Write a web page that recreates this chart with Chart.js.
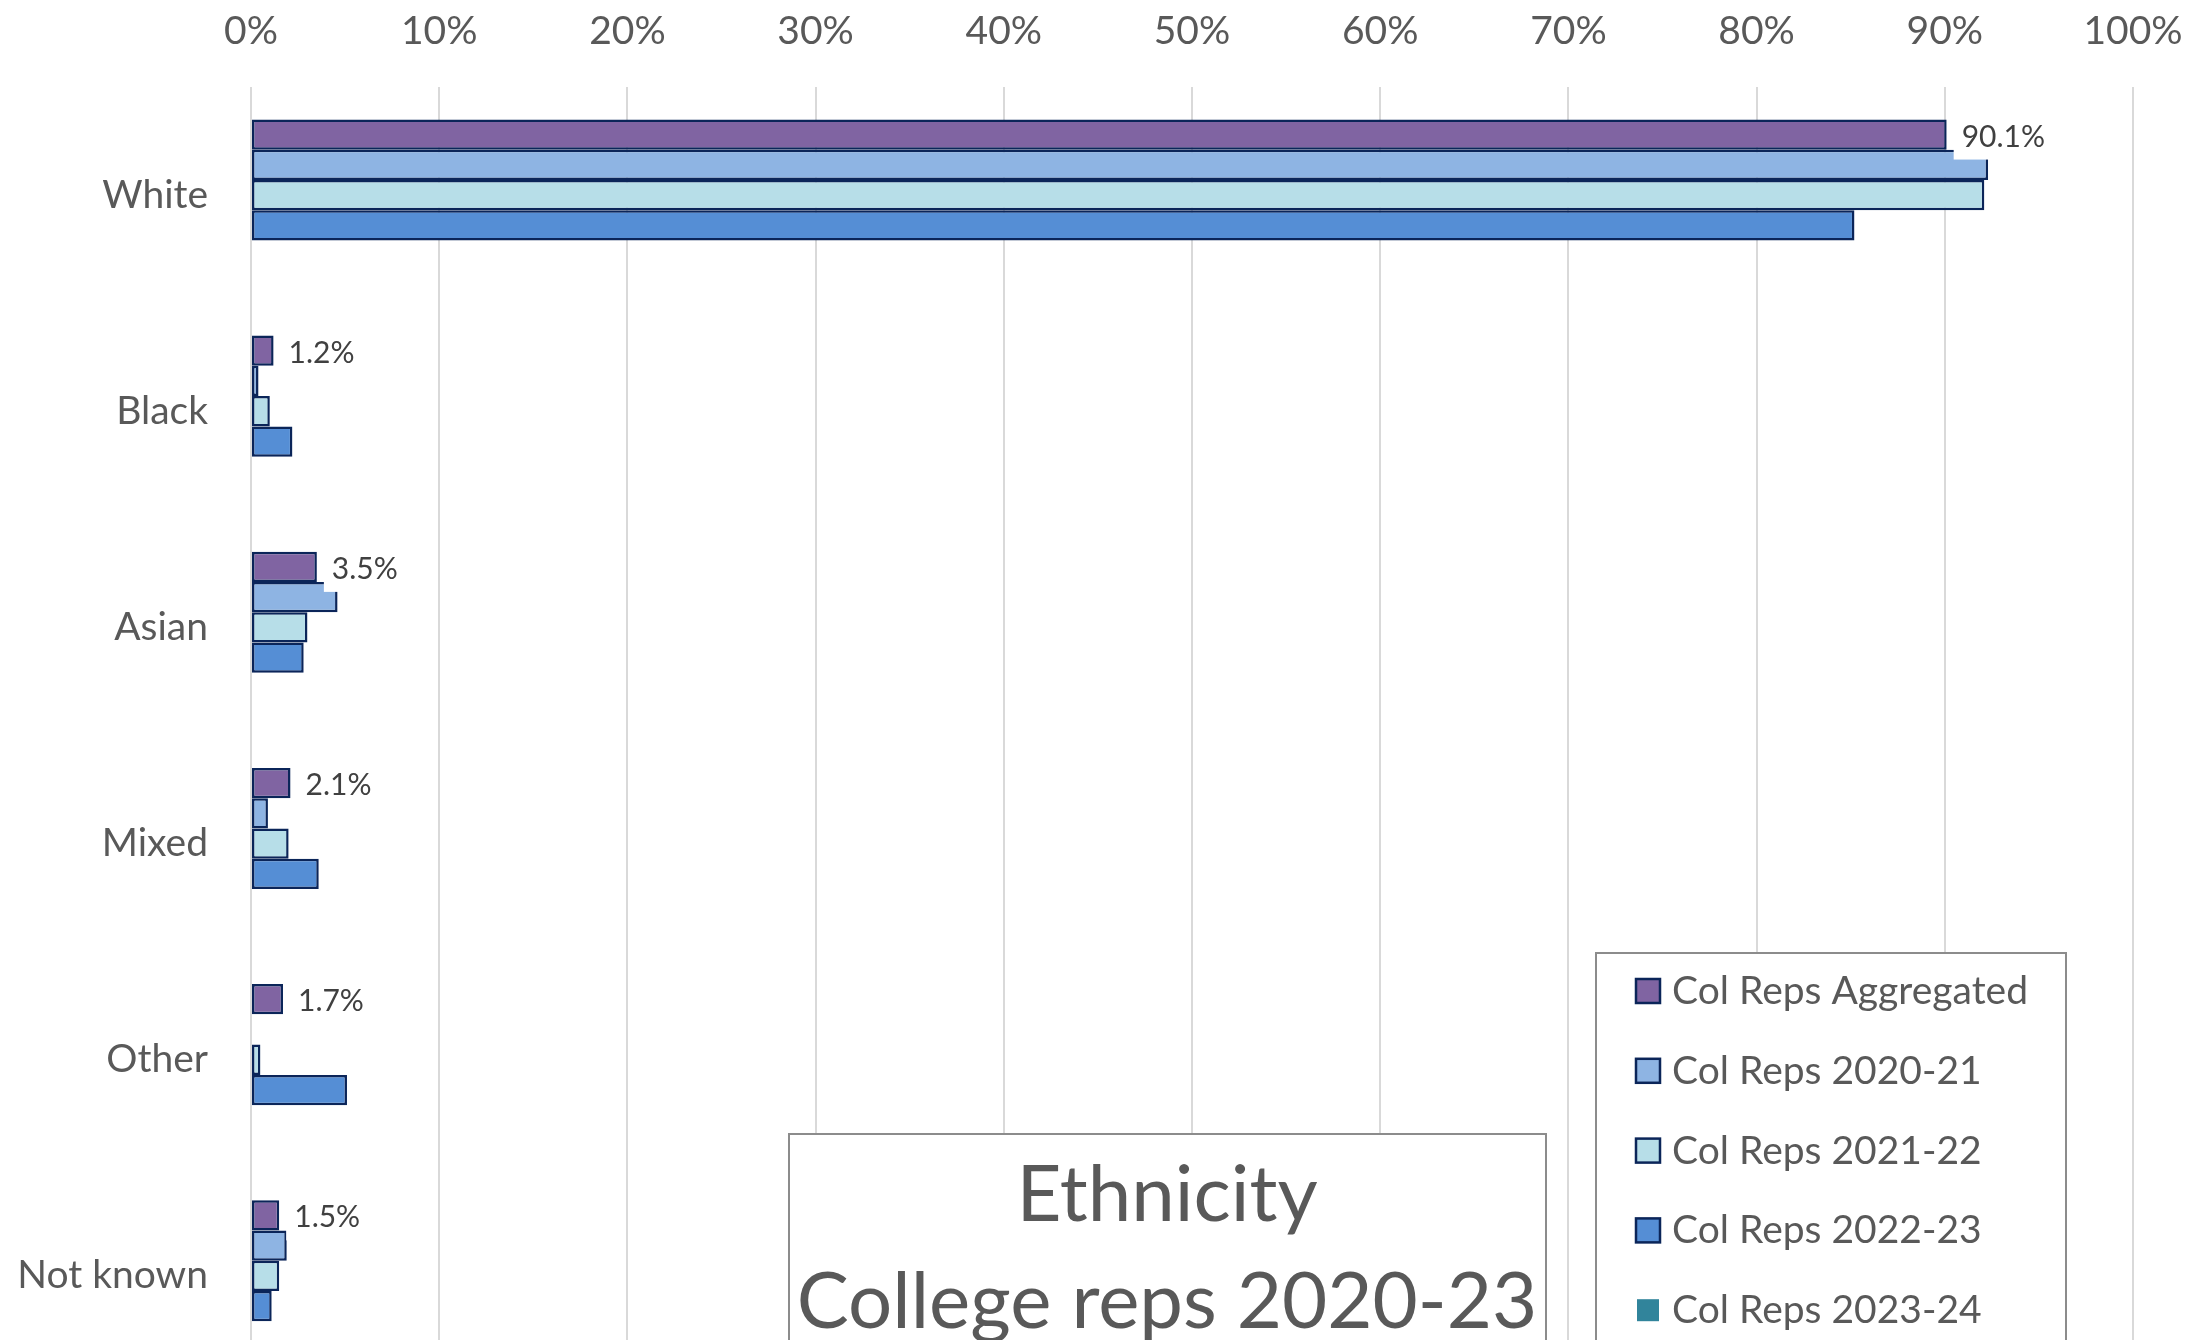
<!DOCTYPE html>
<html>
<head>
<meta charset="utf-8">
<title>Ethnicity - College reps 2020-23</title>
<script src="https://cdn.jsdelivr.net/npm/chart.js@4.4.1/dist/chart.umd.min.js"></script>
<style>
html, body { margin:0; padding:0; background:#fff; width:2190px; height:1340px; overflow:hidden; }
#ethChart { position:absolute; left:0; top:0; }
</style>
</head>
<body>
<canvas id="ethChart" width="2190" height="1400"></canvas>
<script>

const categories = ['White','Black','Asian','Mixed','Other','Not known'];

const seriesNames = ['Col Reps Aggregated','Col Reps 2020-21','Col Reps 2021-22','Col Reps 2022-23','Col Reps 2023-24'];

// percentages per category, same order as categories
const aggregated = [90.1, 1.2, 3.5, 2.1, 1.7, 1.5];
const reps2021 = [92.3, 0.4, 4.6, 0.9, 0, 1.9];
const reps2122 = [92.1, 1.0, 3.0, 2.0, 0.5, 1.5];
const reps2223 = [85.2, 2.2, 2.8, 3.6, 5.1, 1.1];
const reps2324 = [null, null, null, null, null, null];

const tickValues = [0,10,20,30,40,50,60,70,80,90,100];

const titleLines = ['Ethnicity','College reps 2020-23'];

const fillColors = ['#8064A2','#8EB4E3','#B7DEE8','#558ED5','#31849B'];
const edge = '#0B2559';
const textGrey = '#595959';
const fontName = 'Lato, "Open Sans", sans-serif';

let allSeries = [aggregated, reps2021, reps2122, reps2223, reps2324];

let datasets = allSeries.map(function(vals, i){
  return {
    label: seriesNames[i],
    data: vals,
    backgroundColor: fillColors[i],
    borderColor: edge,
    borderWidth: i == 4 ? 0 : 2.5,
    borderSkipped: false,
    categoryPercentage: 0.7,
    barPercentage: 1.0
  };
});

// value labels on the aggregated bars, with a white patch behind them
const valueLabels = {
  id: 'valueLabels',
  afterDatasetsDraw(chart){
    let c = chart.ctx;
    let meta = chart.getDatasetMeta(0);
    c.save();
    c.font = '30px ' + fontName;
    meta.data.forEach(function(bar, i){
      let txt = aggregated[i].toFixed(1) + '%';
      let w = c.measureText(txt).width;
      c.fillStyle = '#fff';
      c.fillRect(bar.x + 7, bar.y - 25, w + 16, 50);
      c.fillStyle = '#404040';
      c.textAlign = 'left';
      c.textBaseline = 'alphabetic';
      c.fillText(txt, bar.x + 15, bar.y + 12);
    });
    c.restore();
  }
};

// boxed legend and boxed title sitting over the lower part of the plot
const boxes = {
  id: 'boxes',
  afterDraw(chart){
    let c = chart.ctx;
    c.save();

    // legend
    c.fillStyle = '#fff';
    c.fillRect(1596, 953, 470, 460);
    c.strokeStyle = '#8c8c8c';
    c.lineWidth = 2;
    c.strokeRect(1596, 953, 470, 460);
    c.font = '39px ' + fontName;
    c.textAlign = 'left';
    c.textBaseline = 'alphabetic';
    chart.data.datasets.forEach(function(ds, i){
      let cy = 991 + i * 79.8;
      c.fillStyle = ds.backgroundColor;
      if (ds.borderWidth > 0){
        c.fillRect(1636, cy - 12, 24, 24);
        c.strokeStyle = edge;
        c.lineWidth = 2.5;
        c.strokeRect(1636, cy - 12, 24, 24);
      } else {
        c.fillRect(1637, cy - 11, 22, 22);
      }
      c.fillStyle = textGrey;
      c.fillText(ds.label, 1672, cy + 13);
    });

    // title
    c.fillStyle = '#fff';
    c.fillRect(789, 1134, 757, 300);
    c.strokeStyle = '#8c8c8c';
    c.lineWidth = 2;
    c.strokeRect(789, 1134, 757, 300);
    c.fillStyle = textGrey;
    c.font = '78px ' + fontName;
    c.textAlign = 'center';
    c.fillText(titleLines[0], 1167, 1221);
    c.fillText(titleLines[1], 1167, 1328);

    c.restore();
  }
};

const ctx = document.getElementById('ethChart').getContext('2d');

const ethChart = new Chart(ctx, {
  type: 'bar',
  data: {
    labels: categories,
    datasets: datasets
  },
  options: {
    indexAxis: 'y',
    responsive: false,
    devicePixelRatio: 1,
    animation: false,
    layout: { padding: { top: 8, right: 57, bottom: 16, left: 0 } },
    plugins: {
      legend: { display: false },
      title: { display: false },
      tooltip: { enabled: false }
    },
    scales: {
      x: {
        position: 'top',
        min: 0,
        max: 100,
        afterBuildTicks: function(scale){
          scale.ticks = tickValues.map(function(v){ return { value: v }; });
        },
        afterFit: function(scale){
          scale.height = 79;
          scale.paddingLeft = 0;
          scale.paddingRight = 0;
        },
        ticks: {
          padding: 32,
          maxRotation: 0,
          color: textGrey,
          font: { family: fontName, size: 39 },
          callback: function(v){ return v + '%'; }
        },
        grid: { color: '#D9D9D9', lineWidth: 2, drawTicks: false },
        border: { display: false }
      },
      y: {
        afterFit: function(scale){
          scale.width = 251;
          scale.paddingTop = 0;
          scale.paddingBottom = 0;
        },
        ticks: {
          padding: 35,
          color: textGrey,
          font: { family: fontName, size: 39 }
        },
        grid: { display: false },
        border: { display: false }
      }
    }
  },
  plugins: [valueLabels, boxes]
});

</script>
</body>
</html>
